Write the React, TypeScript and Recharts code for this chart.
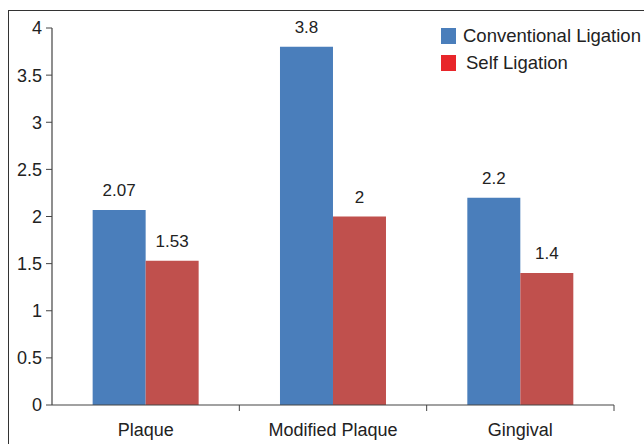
import { Bar, BarChart, LabelList, XAxis, YAxis } from "recharts";

const categories = ["Plaque", "Modified Plaque", "Gingival"];
const conventional = [2.07, 3.8, 2.2];
const selfLigation = [1.53, 2, 1.4];
const yTicks = [0, 0.5, 1, 1.5, 2, 2.5, 3, 3.5, 4];

const data = categories.map((name, i) => ({
  name,
  conventional: conventional[i],
  self: selfLigation[i],
}));

const FONT = '"Liberation Sans", Arial, Helvetica, sans-serif';
const TEXT = "#222";
const PLOT_W = 562;

// category ticks sit between groups, like the Excel original
function CategoryTick(props: any) {
  const { x, y, payload } = props;
  const half = PLOT_W / categories.length / 2;
  return (
    <g>
      <line x1={x + half} y1={y} x2={x + half} y2={y + 6} stroke="#444" strokeWidth={1} />
      <text x={x} y={y + 18} dy="0.71em" textAnchor="middle" fill={TEXT} fontSize={18} fontFamily={FONT}>
        {payload.value}
      </text>
    </g>
  );
}

function LegendBox() {
  const items = [
    { label: "Conventional Ligation", color: "#4a7ebb", textX: 22 },
    { label: "Self Ligation", color: "#e8262a", textX: 25 },
  ];
  return (
    <div
      style={{
        position: "absolute",
        left: 441,
        top: 28,
        fontFamily: FONT,
        fontSize: 18.5,
        color: TEXT,
        width: 220,
      }}
    >
      {items.map((it) => (
        <div key={it.label} style={{ position: "relative", height: 27, whiteSpace: "nowrap" }}>
          <span
            style={{
              position: "absolute",
              left: 0,
              top: 0,
              width: 15,
              height: 16,
              background: it.color,
            }}
          />
          <span style={{ position: "absolute", left: it.textX, top: -3, lineHeight: "22px" }}>{it.label}</span>
        </div>
      ))}
    </div>
  );
}

export default function App() {
  return (
    <div style={{ position: "fixed", left: 0, top: 0, width: 644, height: 444, background: "#fff", overflow: "hidden" }}>
      <div
        style={{
          position: "absolute",
          left: 8,
          top: 10,
          width: 660,
          height: 460,
          border: "1.5px solid #333",
          boxSizing: "border-box",
        }}
      />
      <BarChart
        width={644}
        height={444}
        data={data}
        margin={{ top: 28, right: 30, bottom: 0, left: 0 }}
        barCategoryGap="21.7%"
        barGap={0}
        style={{ position: "absolute", left: 0, top: 0 }}
      >
        <XAxis
          dataKey="name"
          axisLine={{ stroke: "#444", strokeWidth: 1.2 }}
          tickLine={false}
          tickSize={0}
          tickMargin={0}
          interval={0}
          tick={(p: any) => <CategoryTick {...p} />}
          height={39}
        />
        <YAxis
          width={52}
          domain={[0, 4]}
          ticks={yTicks}
          interval={0}
          axisLine={{ stroke: "#444", strokeWidth: 1.2 }}
          tickLine={{ stroke: "#444" }}
          tickSize={6}
          tickMargin={4}
          tick={{ fill: TEXT, fontSize: 18, fontFamily: FONT }}
        />
        <Bar dataKey="conventional" fill="#4a7ebb" isAnimationActive={false}>
          <LabelList dataKey="conventional" position="top" offset={14} fill={TEXT} fontSize={17} fontFamily={FONT} />
        </Bar>
        <Bar dataKey="self" fill="#c0504d" isAnimationActive={false}>
          <LabelList dataKey="self" position="top" offset={14} fill={TEXT} fontSize={17} fontFamily={FONT} />
        </Bar>
      </BarChart>
      <LegendBox />
    </div>
  );
}
